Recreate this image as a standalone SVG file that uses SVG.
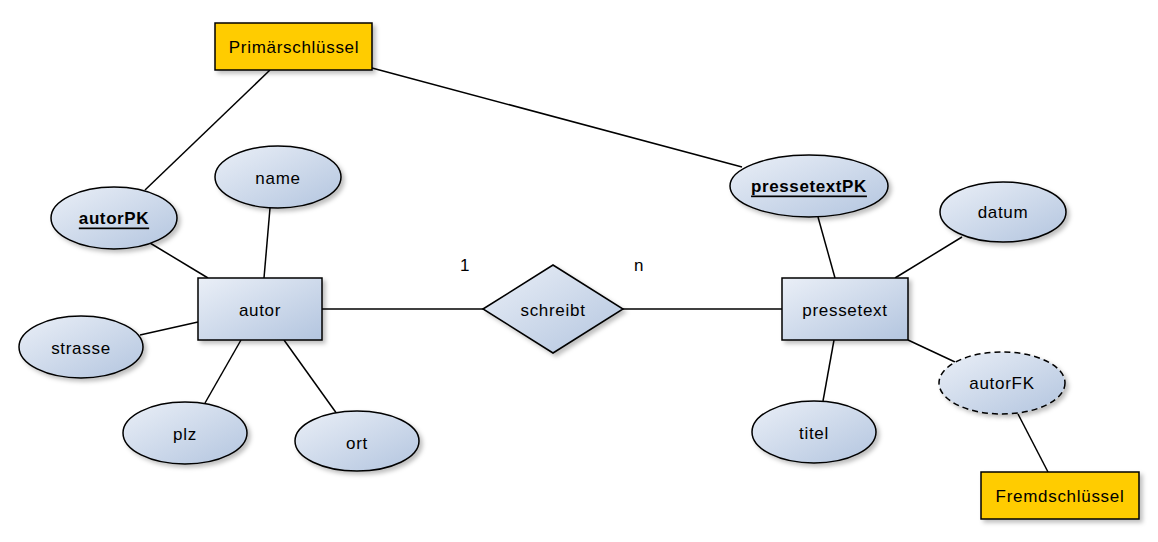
<svg xmlns="http://www.w3.org/2000/svg" width="1158" height="542" viewBox="0 0 1158 542">
<style>
.shape{fill:url(#g);stroke:#000;stroke-width:1.5;filter:url(#sh)}
.key{fill:#ffcc00;stroke:#000;stroke-width:1.5;filter:url(#sh)}
.dash{stroke-dasharray:6 4}
text{font-family:"Liberation Sans",Arial,sans-serif;font-size:17px;letter-spacing:0.7px;fill:#000;text-anchor:middle;dominant-baseline:central}
.pk{font-weight:bold;text-decoration:underline;letter-spacing:0.6px}
#connectors line{stroke:#000;stroke-width:1.5}
</style>
<defs>
<linearGradient id="g" x1="0" y1="0" x2="1" y2="1">
<stop offset="0" stop-color="#eaeff7"/>
<stop offset="1" stop-color="#b3c5df"/>
</linearGradient>
<filter id="sh" x="-20%" y="-20%" width="150%" height="150%">
<feDropShadow dx="3" dy="3" stdDeviation="2" flood-color="#000" flood-opacity="0.25"/>
</filter>
</defs>
<rect width="1158" height="542" fill="#fff"/>
<g id="connectors">
<line x1="270" y1="70" x2="145" y2="190"/>
<line x1="372" y1="68" x2="742" y2="167"/>
<line x1="150" y1="243" x2="208" y2="278"/>
<line x1="270" y1="208" x2="264" y2="278"/>
<line x1="140" y1="335" x2="198" y2="322"/>
<line x1="241" y1="340" x2="205" y2="403"/>
<line x1="284" y1="340" x2="337" y2="414"/>
<line x1="322" y1="309" x2="483" y2="309"/>
<line x1="623" y1="309" x2="782" y2="309"/>
<line x1="818" y1="217" x2="835" y2="278"/>
<line x1="962" y1="237" x2="895" y2="278"/>
<line x1="834" y1="340" x2="823" y2="401"/>
<line x1="908" y1="340" x2="955" y2="362"/>
<line x1="1018" y1="414" x2="1048" y2="472"/>
</g>
<g id="primaer"><rect class="key" x="215" y="23" width="157" height="47"/><text x="294" y="47">Primärschlüssel</text></g>
<g id="autorPK"><ellipse class="shape" cx="114" cy="218" rx="63" ry="31"/><text class="pk" x="114" y="218">autorPK</text></g>
<g id="name"><ellipse class="shape" cx="278" cy="177" rx="63" ry="31"/><text x="278" y="178">name</text></g>
<g id="autor"><rect class="shape" x="198" y="278" width="124" height="62"/><text x="260" y="310">autor</text></g>
<g id="strasse"><ellipse class="shape" cx="81" cy="347" rx="62" ry="31"/><text x="81" y="348">strasse</text></g>
<g id="plz"><ellipse class="shape" cx="185" cy="433" rx="62" ry="31"/><text x="185" y="434">plz</text></g>
<g id="ort"><ellipse class="shape" cx="357" cy="441" rx="62" ry="30"/><text x="357" y="443">ort</text></g>
<g id="schreibt"><polygon class="shape" points="483,309 553,265 623,309 553,353"/><text x="553" y="310">schreibt</text></g>
<g id="card"><text x="465" y="265">1</text><text x="639" y="265">n</text></g>
<g id="pressetext"><rect class="shape" x="782" y="278" width="126" height="62"/><text x="845" y="310">pressetext</text></g>
<g id="pressetextPK"><ellipse class="shape" cx="809" cy="186" rx="79" ry="31"/><text class="pk" x="809" y="186">pressetextPK</text></g>
<g id="datum"><ellipse class="shape" cx="1003" cy="212" rx="63" ry="30"/><text x="1003" y="212">datum</text></g>
<g id="titel"><ellipse class="shape" cx="814" cy="432" rx="62" ry="31"/><text x="814" y="433">titel</text></g>
<g id="autorFK"><ellipse class="shape dash" cx="1002" cy="383" rx="63" ry="31"/><text x="1002" y="383">autorFK</text></g>
<g id="fremd"><rect class="key" x="981" y="472" width="158" height="47"/><text x="1060" y="496">Fremdschlüssel</text></g>
</svg>
